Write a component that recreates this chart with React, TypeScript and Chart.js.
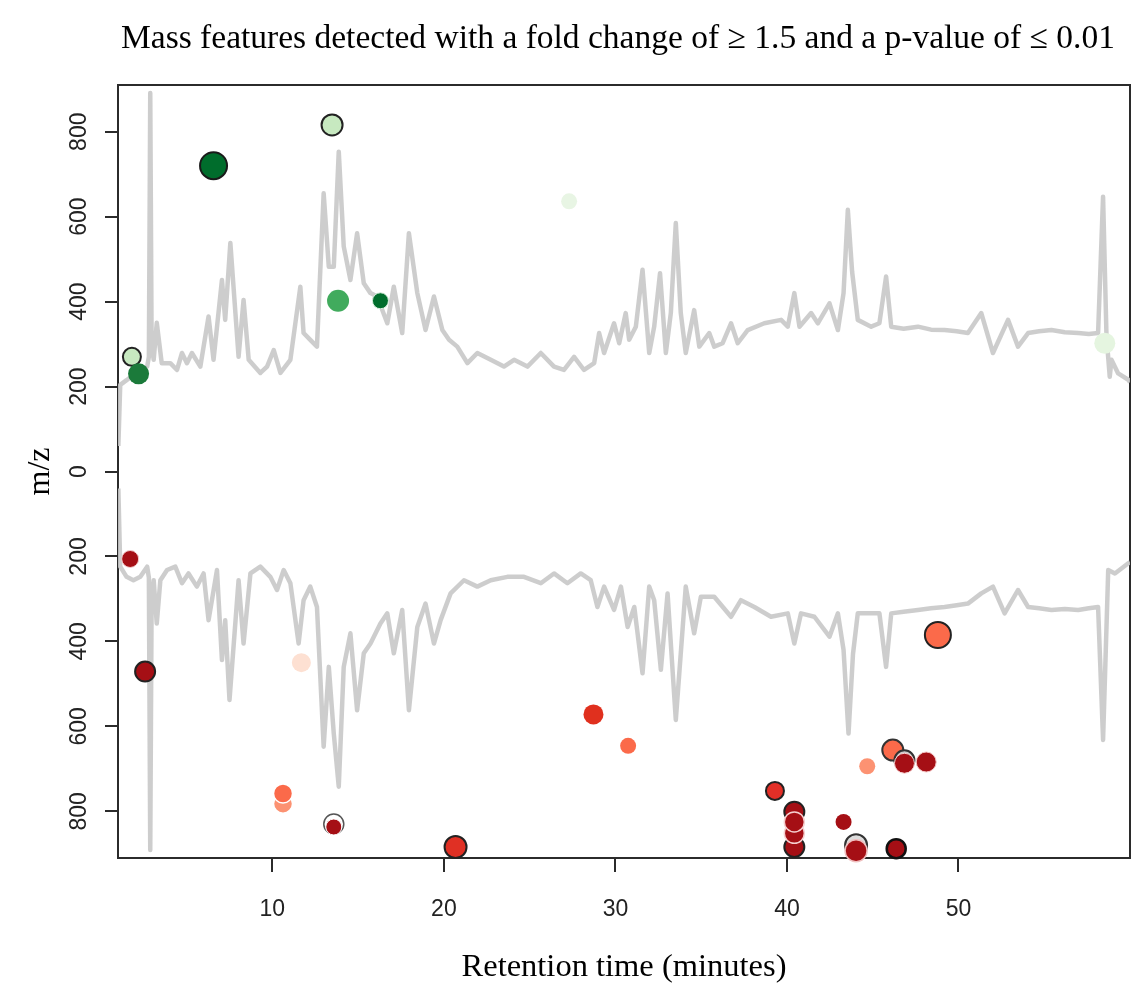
import React, { useEffect, useRef } from "react";
import { Chart, registerables } from "chart.js";

Chart.register(...registerables);

// ---------- text ----------
const TITLE = "Mass features detected with a fold change of \u2265 1.5 and a p-value of \u2264 0.01";
const X_TITLE = "Retention time (minutes)";
const Y_TITLE = "m/z";

// ---------- axes ----------
const X_MIN = 1;
const X_MAX = 60;
const X_TICKS = [10, 20, 30, 40, 50];
const Y_MIN = -910;
const Y_MAX = 910;
const Y_TICKS = [-800, -600, -400, -200, 0, 200, 400, 600, 800];
const Y_TICK_LABELS = ["800", "600", "400", "200", "0", "200", "400", "600", "800"];

// ---------- chromatogram traces (upper = positive mode, lower = negative mode, drawn mirrored) ----------
const POS_TRACE_RT = [1.02, 1.13, 1.5, 1.9, 2.3, 2.7, 2.8, 2.88, 2.96, 3.08, 3.26, 3.55, 4.05, 4.44, 4.73, 5.02, 5.31, 5.8, 6.28, 6.57, 7.06, 7.25, 7.55, 8.03, 8.32, 8.62, 9.3, 9.69, 10.08, 10.47, 11.05, 11.63, 11.82, 12.21, 12.6, 12.99, 13.29, 13.58, 13.87, 14.16, 14.55, 14.94, 15.33, 15.72, 16.11, 16.7, 17.08, 17.57, 17.96, 18.45, 18.93, 19.42, 19.91, 20.3, 20.78, 21.37, 21.95, 22.73, 23.5, 24.09, 24.87, 25.65, 26.42, 27.0, 27.59, 28.17, 28.76, 29.05, 29.34, 29.92, 30.22, 30.6, 30.8, 31.19, 31.58, 31.97, 32.26, 32.6, 32.94, 33.23, 33.52, 33.81, 34.1, 34.59, 34.89, 35.47, 35.76, 36.25, 36.74, 37.13, 37.71, 38.68, 39.66, 40.05, 40.43, 40.73, 41.41, 41.8, 42.48, 42.97, 43.3, 43.55, 43.8, 44.13, 44.91, 45.39, 45.78, 46.08, 46.8, 47.64, 48.4, 49.19, 49.9, 50.55, 51.33, 52.01, 52.89, 53.47, 54.06, 54.7, 55.42, 56.2, 56.98, 57.6, 58.14, 58.43, 58.63, 58.82, 58.92, 59.31, 59.9, 60];
const POS_TRACE_VAL = [60, 204, 215, 228, 239, 247, 270, 891, 300, 263, 350, 255, 255, 239, 279, 255, 279, 247, 365, 263, 451, 357, 538, 270, 404, 263, 232, 247, 286, 232, 263, 435, 326, 310, 294, 655, 482, 482, 753, 530, 451, 561, 443, 420, 412, 349, 435, 326, 561, 420, 333, 412, 333, 310, 294, 255, 279, 263, 247, 263, 247, 279, 247, 239, 270, 239, 255, 326, 279, 349, 302, 373, 310, 341, 475, 279, 341, 467, 279, 373, 585, 373, 279, 380, 294, 326, 294, 302, 349, 302, 333, 349, 357, 341, 420, 341, 373, 349, 396, 333, 420, 616, 470, 357, 341, 349, 459, 341, 336, 341, 334, 333, 330, 326, 373, 279, 357, 294, 326, 330, 333, 328, 326, 324, 326, 647, 318, 223, 263, 231, 216, 210];

const NEG_TRACE_RT = [1.02, 1.13, 1.5, 1.9, 2.3, 2.7, 2.8, 2.88, 2.96, 3.08, 3.26, 3.47, 3.86, 4.34, 4.73, 5.11, 5.6, 5.99, 6.28, 6.77, 7.06, 7.25, 7.5, 8.03, 8.32, 8.72, 9.3, 9.88, 10.27, 10.66, 11.05, 11.53, 11.82, 12.21, 12.6, 12.99, 13.29, 13.58, 13.87, 14.16, 14.55, 14.94, 15.33, 15.72, 16.3, 16.7, 17.08, 17.57, 17.96, 18.45, 18.93, 19.42, 19.81, 20.39, 21.17, 21.95, 22.73, 23.7, 24.67, 25.65, 26.42, 27.2, 27.98, 28.56, 28.95, 29.34, 29.92, 30.32, 30.71, 31.1, 31.58, 31.97, 32.26, 32.65, 33.04, 33.52, 34.1, 34.59, 34.98, 35.76, 36.74, 37.32, 38.1, 39.07, 40.05, 40.43, 40.82, 41.6, 42.48, 42.97, 43.3, 43.59, 43.85, 44.13, 44.91, 45.39, 45.78, 46.08, 46.8, 47.64, 48.4, 49.19, 49.9, 50.55, 51.33, 52.01, 52.69, 53.47, 54.06, 54.7, 55.42, 56.2, 56.98, 57.6, 58.14, 58.43, 58.73, 59.12, 59.9, 60];
const NEG_TRACE_VAL = [40, 224, 248, 256, 248, 224, 250, 891, 300, 256, 358, 256, 232, 224, 263, 240, 271, 240, 350, 232, 444, 350, 538, 256, 405, 240, 224, 248, 279, 232, 263, 405, 303, 271, 319, 648, 460, 617, 742, 460, 381, 562, 428, 405, 358, 334, 428, 326, 562, 366, 311, 405, 350, 287, 256, 271, 256, 248, 248, 263, 240, 263, 240, 256, 319, 271, 326, 271, 366, 319, 475, 271, 303, 467, 287, 585, 271, 381, 295, 295, 342, 303, 319, 342, 334, 405, 334, 342, 389, 334, 420, 617, 430, 334, 334, 334, 460, 334, 330, 326, 322, 319, 315, 311, 287, 271, 334, 279, 319, 322, 326, 324, 326, 322, 319, 632, 232, 240, 216, 214];

// ---------- mass features: positive mode (upper half) ----------
const POS_RT = [1.81, 2.2, 6.57, 13.48, 13.83, 16.3, 27.3, 58.53];
const POS_MZ = [270, 230, 720, 816, 402, 402, 636, 302];

// ---------- mass features: negative mode (lower half, m/z plotted downward) ----------
const NEG_RT = [1.71, 2.58, 11.69, 10.62, 10.62, 13.58, 13.58, 20.68, 28.72, 30.74, 39.3, 40.43, 40.43, 40.43, 40.43, 43.3, 44.03, 44.03, 46.37, 44.68, 46.17, 46.85, 46.85, 48.12, 48.8];
const NEG_MZ = [206, 471, 450, 782, 758, 830, 837, 884, 572, 646, 752, 884, 852, 801, 825, 825, 880, 893, 888, 694, 656, 680, 687, 684, 385];

// ---------- styles (kept apart from the values) ----------
const POS_FILL = ["#c7e9c0", "#1b7a3a", "#006d2c", "#c7e9c0", "#41ab5d", "#006d2c", "#e8f5e4", "#e5f5e0"];
const POS_RADIUS = [9, 10.5, 13.5, 10.5, 11, 8, 8, 10.5];
const POS_EDGE = ["#222222", "#1b7a3a", "#1a1a1a", "#222222", "#41ab5d", "#d8eedc", "#e8f5e4", "#e5f5e0"];
const POS_EDGE_W = [2, 0, 2, 2, 0, 1, 0, 0];

const NEG_FILL = ["#a50f15", "#a50f15", "#fde0d2", "#fc9272", "#fb6a4a", "#ffffff", "#a50f15", "#e03024", "#e0301e", "#fb6a4a", "#e32f27", "#a50f15", "#a50f15", "#a50f15", "#a50f15", "#a50f15", "#dddddd", "#a50f15", "#a50f15", "#fc9272", "#fb6a4a", "#cccccc", "#a50f15", "#a50f15", "#fb6a4a"];
const NEG_RADIUS = [8.5, 10, 9.5, 9.5, 9.5, 10, 8, 11, 10, 8, 9, 10, 10, 10, 10, 8, 11, 11, 9.5, 8, 10.5, 10, 10, 10, 13];
const NEG_EDGE = ["#f4d0d0", "#222222", "#fde0d2", "#ffffff", "#ffffff", "#555555", "#ffffff", "#222222", "#e0301e", "#fb6a4a", "#222222", "#222222", "#f6d0d0", "#222222", "#f6d0d0", "#a50f15", "#333333", "#f0c0c0", "#111111", "#fc9272", "#333333", "#333333", "#f6d0d0", "#f3c4c4", "#222222"];
const NEG_EDGE_W = [1, 2, 0, 1.5, 1.5, 1.5, 1, 2, 0, 0, 2, 2, 1.5, 2, 1.5, 0, 2, 1.5, 2.5, 0, 2, 2, 1, 1, 2];

const SERIF = '"Liberation Serif", "DejaVu Serif", "Times New Roman", serif';
const SANS = '"Liberation Sans", Arial, Helvetica, sans-serif';

const framePlugin = {
  id: "frameAndLabels",
  beforeDatasetsDraw(chart: any) {
    const { ctx, chartArea: a } = chart;
    ctx.save();
    ctx.strokeStyle = "#2b2b2b";
    ctx.lineWidth = 2;
    ctx.strokeRect(a.left, a.top, a.right - a.left, a.bottom - a.top);
    ctx.restore();
  },
  afterDatasetsDraw(chart: any) {
    const { ctx, chartArea: a, scales } = chart;
    ctx.save();
    ctx.fillStyle = "#222222";
    ctx.font = `23px ${SANS}`;
    ctx.textAlign = "center";
    ctx.textBaseline = "middle";
    Y_TICKS.forEach((v, i) => {
      const py = scales.y.getPixelForValue(v);
      ctx.save();
      ctx.translate(a.left - 38, py);
      ctx.rotate(-Math.PI / 2);
      ctx.fillText(Y_TICK_LABELS[i], 0, 0);
      ctx.restore();
    });

    ctx.fillStyle = "#000000";
    ctx.font = `33.5px ${SERIF}`;
    ctx.textBaseline = "alphabetic";
    ctx.textAlign = "center";
    ctx.fillText(TITLE, 618, 48);
    ctx.restore();
  },
};

export default function App() {
  const ref = useRef<HTMLCanvasElement | null>(null);

  useEffect(() => {
    if (!ref.current) return;
    const posPoints = POS_RT.map((t, i) => ({ x: t, y: POS_MZ[i] }));
    const negPoints = NEG_RT.map((t, i) => ({ x: t, y: -NEG_MZ[i] }));
    const posTrace = POS_TRACE_RT.map((t, i) => ({ x: t, y: POS_TRACE_VAL[i] }));
    const negTrace = NEG_TRACE_RT.map((t, i) => ({ x: t, y: -NEG_TRACE_VAL[i] }));

    const chart = new Chart(ref.current, {
      type: "scatter",
      data: {
        datasets: [
          {
            label: "positive",
            data: posPoints,
            pointBackgroundColor: POS_FILL,
            pointBorderColor: POS_EDGE,
            pointBorderWidth: POS_EDGE_W,
            pointRadius: POS_RADIUS,
            pointHoverRadius: POS_RADIUS,
            clip: false,
            order: 0,
          } as any,
          {
            label: "negative",
            data: negPoints,
            pointBackgroundColor: NEG_FILL,
            pointBorderColor: NEG_EDGE,
            pointBorderWidth: NEG_EDGE_W,
            pointRadius: NEG_RADIUS,
            pointHoverRadius: NEG_RADIUS,
            clip: false,
            order: 1,
          } as any,
          {
            label: "TIC +",
            data: posTrace,
            showLine: true,
            borderColor: "rgba(200,200,200,0.9)",
            borderWidth: 4.5,
            borderJoinStyle: "round",
            pointRadius: 0,
            tension: 0,
            order: 5,
          } as any,
          {
            label: "TIC -",
            data: negTrace,
            showLine: true,
            borderColor: "rgba(200,200,200,0.9)",
            borderWidth: 4.5,
            borderJoinStyle: "round",
            pointRadius: 0,
            tension: 0,
            order: 6,
          } as any,
        ],
      },
      options: {
        responsive: false,
        animation: false,
        devicePixelRatio: 1,
        events: [],
        layout: { autoPadding: false, padding: { top: 85, right: 2, left: 0, bottom: 0 } },
        plugins: {
          legend: { display: false },
          title: { display: false },
          tooltip: { enabled: false },
        },
        scales: {
          x: {
            type: "linear",
            min: X_MIN,
            max: X_MAX,
            afterBuildTicks: (s: any) => {
              s.ticks = X_TICKS.map((v) => ({ value: v }));
            },
            afterFit: (s: any) => {
              s.height = 132;
              s.paddingLeft = 0;
              s.paddingRight = 0;
            },
            ticks: {
              color: "#222222",
              font: { family: SANS, size: 23 },
              padding: 24,
              maxRotation: 0,
              minRotation: 0,
            },
            grid: {
              drawOnChartArea: false,
              drawTicks: true,
              tickLength: 14,
              color: "#2b2b2b",
              lineWidth: 2,
            },
            border: { display: false },
            title: {
              display: true,
              text: X_TITLE,
              color: "#000000",
              font: { family: SERIF, size: 32.5, weight: "normal" },
              padding: { top: 0, bottom: 3 },
            },
          },
          y: {
            type: "linear",
            min: Y_MIN,
            max: Y_MAX,
            afterBuildTicks: (s: any) => {
              s.ticks = Y_TICKS.map((v) => ({ value: v }));
            },
            afterFit: (s: any) => {
              s.width = 118;
              s.paddingTop = 0;
              s.paddingBottom = 0;
            },
            ticks: { display: false },
            grid: {
              drawOnChartArea: false,
              drawTicks: true,
              tickLength: 13,
              color: "#2b2b2b",
              lineWidth: 2,
            },
            border: { display: false },
            title: {
              display: true,
              text: Y_TITLE,
              color: "#000000",
              font: { family: SERIF, size: 32, weight: "normal" },
              padding: { top: 21, bottom: 0 },
            },
          },
        },
      } as any,
      plugins: [framePlugin],
    });
    return () => chart.destroy();
  }, []);

  return (
    <div style={{ position: "absolute", left: 0, top: 0, width: 1132, height: 990, background: "#ffffff" }}>
      <canvas ref={ref} width={1132} height={990} style={{ display: "block" }} />
    </div>
  );
}
